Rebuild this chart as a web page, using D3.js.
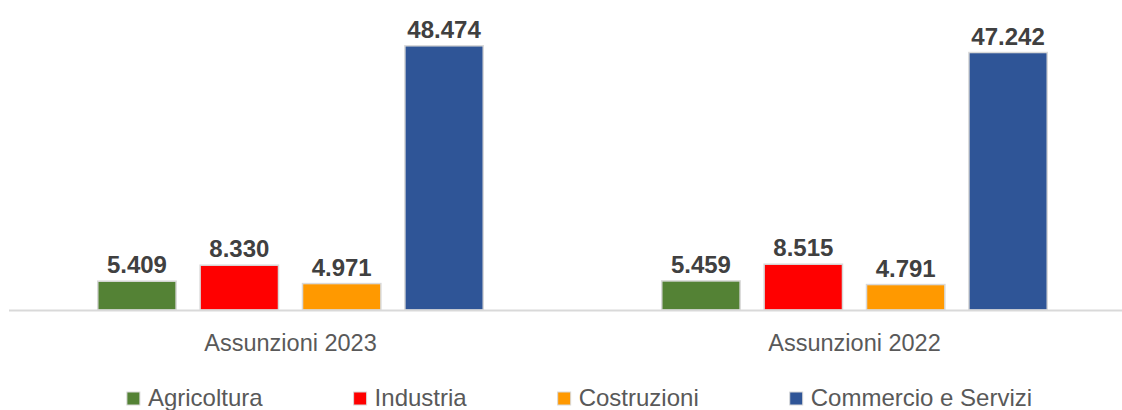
<!DOCTYPE html>
<html>
<head>
<meta charset="utf-8">
<script src="https://cdn.jsdelivr.net/npm/d3@7"></script>
<style>
  body { margin: 0; background: #fff; }
  svg { display: block; font-family: "Liberation Sans", Arial, sans-serif; }
</style>
</head>
<body>
<svg id="chart"></svg>
<script>
const categories = ["Assunzioni 2023", "Assunzioni 2022"];
const sectors = ["Agricoltura", "Industria", "Costruzioni", "Commercio e Servizi"];
const values2023 = [5409, 8330, 4971, 48474];
const values2022 = [5459, 8515, 4791, 47242];
const sectorColors = ["#548235", "#FF0000", "#FF9900", "#2F5597"];

const width = 1122, height = 410;
const baseline = 310;

const rows = [values2023, values2022];

const svg = d3.select("#chart")
    .attr("width", width)
    .attr("height", height);

const itFormat = d3.formatLocale({
    decimal: ",", thousands: ".", grouping: [3], currency: ["€", ""]
}).format(",d");

const x0 = d3.scaleBand()
    .domain(categories)
    .range([8.5, 1136.5])
    .padding(0);

const groupWidth = 387;
const x1 = d3.scaleBand()
    .domain(sectors)
    .range([-groupWidth / 2, groupWidth / 2])
    .paddingInner(0.22)
    .paddingOuter(0);

const y = d3.scaleLinear()
    .domain([0, 50000])
    .range([baseline, baseline - 273.3]);

const color = d3.scaleOrdinal().domain(sectors).range(sectorColors);

// bars
const groups = svg.selectAll("g.group")
    .data(categories)
    .enter().append("g")
    .attr("class", "group")
    .attr("transform", d => `translate(${x0(d) + x0.bandwidth() / 2},0)`);

groups.selectAll("rect")
    .data((d, i) => sectors.map((s, j) => ({ sector: s, value: rows[i][j] })))
    .enter().append("rect")
    .attr("x", d => x1(d.sector) + 0.75)
    .attr("y", d => y(d.value) + 0.75)
    .attr("width", x1.bandwidth() - 1.5)
    .attr("height", d => baseline - y(d.value) - 0.75)
    .attr("fill", d => color(d.sector))
    .attr("stroke", "#d9d9d9")
    .attr("stroke-width", 1.5);

groups.selectAll("text.value")
    .data((d, i) => sectors.map((s, j) => ({ sector: s, value: rows[i][j] })))
    .enter().append("text")
    .attr("class", "value")
    .attr("x", d => x1(d.sector) + x1.bandwidth() / 2)
    .attr("y", d => y(d.value) - 7)
    .attr("text-anchor", "middle")
    .attr("font-size", 24)
    .attr("font-weight", "bold")
    .attr("fill", "#404040")
    .text(d => itFormat(d.value));

// axis
const axis = svg.append("g")
    .attr("transform", `translate(0,${baseline})`)
    .call(d3.axisBottom(x0).tickSize(0).tickSizeOuter(0));

axis.select(".domain")
    .attr("stroke", "#d9d9d9")
    .attr("stroke-width", 2);

axis.selectAll(".tick text")
    .attr("y", 41)
    .attr("dy", 0)
    .attr("font-size", 23.5)
    .attr("font-family", "Liberation Sans, Arial, sans-serif")
    .attr("fill", "#595959");

// legend
const legend = svg.append("g").attr("class", "legend");
const items = legend.selectAll("g.item")
    .data(sectors)
    .enter().append("g")
    .attr("class", "item");

items.append("rect")
    .attr("x", 0)
    .attr("y", 392)
    .attr("width", 13)
    .attr("height", 13)
    .attr("fill", d => color(d))
    .attr("stroke", "#d9d9d9")
    .attr("stroke-width", 1);

items.append("text")
    .attr("x", 21)
    .attr("y", 406)
    .attr("font-size", 24)
    .attr("fill", "#595959")
    .text(d => d);

let offset = 0;
const positions = [];
items.each(function () {
    const w = 21 + d3.select(this).select("text").node().getComputedTextLength();
    positions.push(offset);
    offset += w + 91;
});
const total = offset - 91;
const start = 579.5 - total / 2;
items.attr("transform", (d, i) => `translate(${start + positions[i]},0)`);
</script>
</body>
</html>
